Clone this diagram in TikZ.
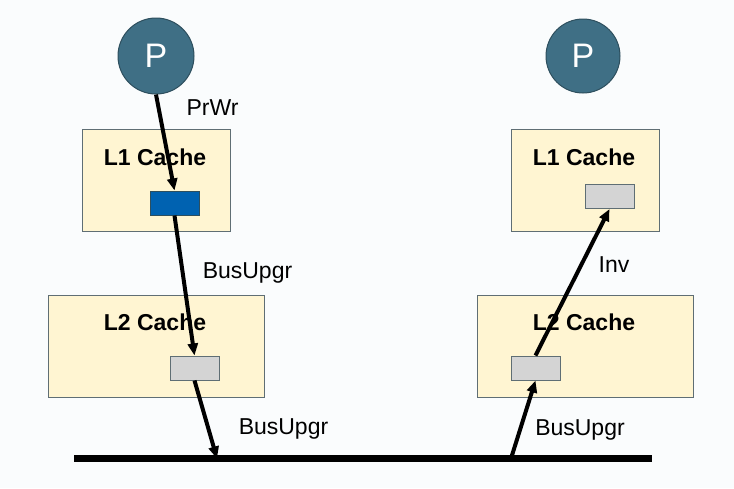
\documentclass[tikz,border=0pt]{standalone}
\usepackage{fontspec}
\setmainfont{Liberation Sans}
\usetikzlibrary{arrows.meta}
\definecolor{bgc}{HTML}{FAFCFD}
\definecolor{pfill}{HTML}{3F6F85}
\definecolor{pdraw}{HTML}{2E4F5E}
\definecolor{cfill}{HTML}{FFF5D2}
\definecolor{cdraw}{HTML}{5F6E74}
\definecolor{bfill}{HTML}{0062B1}
\definecolor{gfill}{HTML}{D4D4D4}
\tikzset{
  proc/.style={circle, fill=pfill, draw=pdraw, line width=1pt, minimum size=76pt, inner sep=0pt,
    text=white, font=\fontsize{34}{34}\selectfont},
  cachebox/.style={rectangle, fill=cfill, draw=cdraw, line width=1pt, inner sep=0pt},
  l1box/.style={cachebox, minimum width=148pt, minimum height=102pt},
  l2box/.style={cachebox, minimum width=216pt, minimum height=102pt},
  cachelabel/.style={font=\fontsize{23}{23}\selectfont\bfseries, inner sep=0pt},
  lbl/.style={font=\fontsize{23}{23}\selectfont, inner sep=0pt},
  blk/.style={rectangle, draw=cdraw, line width=1pt, minimum width=49pt, minimum height=24pt, inner sep=0pt},
  conn/.style={line width=4pt, -{Triangle[length=12pt,width=10pt]}},
}
\begin{document}
\begin{tikzpicture}[x=1pt,y=-1pt]
\fill[bgc] (0,0) rectangle (734,488);
\useasboundingbox (0,0) rectangle (734,488);
% processors
\node[proc] (p1) at (156,56) {P};
\node[proc, minimum size=74pt] (p2) at (583,56) {P};
% caches
\node[l1box] (l1a) at (156,180) {};
\node[l1box] (l1b) at (585,180) {};
\node[l2box] (l2a) at (156,346) {};
\node[l2box] (l2b) at (585,346) {};
\node[cachelabel] (t1a) at (155,157) {L1 Cache};
\node[cachelabel] (t1b) at (584,157) {L1 Cache};
\node[cachelabel] (t2a) at (155,322) {L2 Cache};
\node[cachelabel] (t2b) at (584,322) {L2 Cache};
% blocks
\node[blk, fill=bfill, draw=pdraw] (b1) at (174.5,203) {};
\node[blk, fill=gfill] (g2) at (194.5,368) {};
\node[blk, fill=gfill] (g3) at (535.5,368) {};
\node[blk, fill=gfill] (g4) at (609.5,196.5) {};
% bus
\coordinate (busL) at (74,458.5);
\coordinate (busR) at (652,458.5);
\coordinate (busA) at (217,458.5);
\coordinate (busB) at (511,458.5);
\draw[line width=7pt] (busL) -- (busR);
% arrows
\draw[conn] (p1.south) -- (b1.north);
\draw[conn] (b1.south) -- (g2.north);
\draw[conn] (g2.south) -- (busA);
\draw[conn] (busB) -- (g3.south);
\draw[conn] (g3.north) -- (g4.south);
% labels
\node[lbl] (lprwr) at (212.5,108) {PrWr};
\node[lbl] (lbus1) at (247.5,273) {BusUpgr};
\node[lbl] (lbus2) at (283.5,429) {BusUpgr};
\node[lbl] (lbus3) at (580,430) {BusUpgr};
\node[lbl] (linv) at (614,265) {Inv};
\end{tikzpicture}
\end{document}
